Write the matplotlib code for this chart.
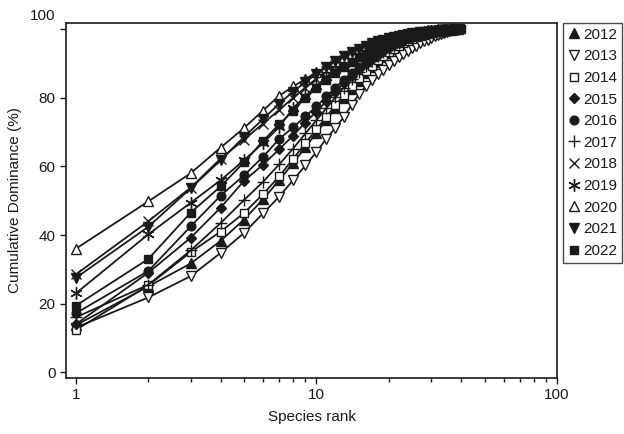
import numpy as np
import matplotlib
matplotlib.use('Agg')
import matplotlib.pyplot as plt
from matplotlib.lines import Line2D
from matplotlib.transforms import ScaledTranslation

plt.rcParams['font.family'] = ['Liberation Sans', 'DejaVu Sans']
plt.rcParams['font.size'] = 11

# cumulative dominance (%) by species rank, one list per year
years = ['2012', '2013', '2014', '2015', '2016', '2017', '2018', '2019', '2020', '2021', '2022']

d2012 = [13.7, 25.0, 31.7, 38.3, 44.5, 50.4, 56.0, 61.0, 65.6, 69.8, 73.6, 77.0, 80.0, 82.7, 85.0,
         87.1, 88.9, 90.5, 91.9, 93.1, 94.1, 95.0, 95.8, 96.5, 97.1, 97.6, 98.0, 98.4, 98.7, 99.0,
         99.2, 99.4, 99.55, 99.7, 99.8, 99.9, 100.0]
d2013 = [13.0, 21.8, 28.0, 34.8, 40.6, 46.3, 51.2, 56.0, 60.3, 64.2, 68.1, 71.3, 74.4, 77.9, 81.0,
         83.3, 85.2, 86.8, 88.2, 89.5, 90.7, 91.8, 92.8, 93.7, 94.5, 95.2, 95.9, 96.5, 97.0, 97.5,
         97.9, 98.3, 98.7, 99.0, 99.3, 99.6, 99.8, 100.0]
d2014 = [12.3, 25.3, 35.0, 41.0, 46.4, 51.9, 57.1, 62.2, 66.8, 70.8, 74.5, 77.8, 80.8, 83.4, 85.7,
         87.7, 89.4, 90.9, 92.2, 93.3, 94.3, 95.1, 95.9, 96.5, 97.1, 97.6, 98.0, 98.4, 98.7, 99.0,
         99.2, 99.4, 99.6, 99.75, 99.9, 100.0]
d2015 = [14.0, 29.0, 39.2, 48.0, 55.8, 60.5, 65.0, 69.0, 72.8, 76.0, 79.0, 81.8, 84.3, 86.5, 88.4,
         90.0, 91.4, 92.6, 93.7, 94.6, 95.4, 96.1, 96.7, 97.3, 97.8, 98.2, 98.6, 98.9, 99.2, 99.4,
         99.6, 99.75, 99.9, 100.0]
d2016 = [17.2, 29.5, 42.5, 51.5, 57.4, 62.8, 68.0, 71.4, 74.6, 77.5, 80.4, 83.0, 85.3, 87.3, 89.0,
         90.5, 91.8, 92.9, 93.9, 94.8, 95.6, 96.3, 96.9, 97.4, 97.9, 98.3, 98.7, 99.0, 99.3, 99.5,
         99.7, 99.8, 99.9, 100.0]
d2017 = [16.0, 25.5, 35.5, 43.5, 50.2, 55.5, 60.6, 65.2, 69.6, 73.5, 77.0, 80.2, 83.0, 85.4, 87.5,
         89.3, 90.8, 92.1, 93.3, 94.3, 95.2, 96.0, 96.7, 97.3, 97.8, 98.2, 98.6, 98.9, 99.2, 99.4,
         99.6, 99.75, 99.85, 99.95, 100.0]
d2018 = [28.5, 44.0, 53.8, 62.3, 67.8, 72.5, 76.5, 80.0, 83.0, 85.6, 87.8, 89.6, 91.1, 92.4, 93.5,
         94.5, 95.3, 96.0, 96.6, 97.1, 97.5, 97.9, 98.2, 98.5, 98.7, 98.9, 99.1, 99.2, 99.3, 99.4,
         99.5, 99.6, 99.7, 99.75, 99.8, 99.85, 99.9, 100.0]
d2019 = [23.0, 40.2, 49.4, 56.0, 61.8, 66.8, 71.5, 77.0, 80.5, 83.5, 86.0, 88.2, 89.9, 91.3, 92.5,
         93.5, 94.4, 95.2, 95.9, 96.5, 97.0, 97.4, 97.8, 98.2, 98.5, 98.8, 99.0, 99.2, 99.35, 99.5,
         99.6, 99.7, 99.8, 99.85, 99.9, 100.0]
d2020 = [36.0, 49.8, 58.0, 65.5, 71.2, 76.3, 80.6, 83.3, 85.5, 87.4, 89.0, 90.6, 92.0, 93.2, 94.2,
         95.1, 95.9, 96.5, 97.0, 97.4, 97.8, 98.1, 98.4, 98.6, 98.8, 99.0, 99.2, 99.3, 99.4, 99.5,
         99.6, 99.7, 99.8, 99.9, 100.0]
d2021 = [27.5, 42.4, 53.6, 61.8, 68.6, 73.8, 78.3, 81.8, 84.6, 87.0, 89.0, 90.7, 92.1, 93.3, 94.3,
         95.2, 95.9, 96.5, 97.0, 97.4, 97.8, 98.1, 98.4, 98.6, 98.8, 99.0, 99.1, 99.2, 99.3, 99.4,
         99.5, 99.6, 99.65, 99.7, 99.75, 99.8, 99.85, 99.9, 100.0]
d2022 = [19.4, 33.0, 46.5, 54.2, 61.2, 67.4, 72.3, 76.2, 80.0, 82.8, 85.2, 87.2, 89.0, 90.5, 91.8,
         92.9, 93.9, 94.7, 95.4, 96.0, 96.5, 97.0, 97.4, 97.8, 98.1, 98.4, 98.6, 98.8, 99.0, 99.15,
         99.3, 99.4, 99.5, 99.6, 99.7, 99.75, 99.8, 99.85, 99.9, 100.0]

series = [d2012, d2013, d2014, d2015, d2016, d2017, d2018, d2019, d2020, d2021, d2022]

# marker style per year: (marker, filled)
styles = [('^', True), ('v', False), ('s', False), ('D', True), ('o', True), ('+', False),
          ('x', False), ((6, 2, 0), False), ('^', False), ('v', True), ('s', True)]
sizes = [7, 7, 6, 5.5, 6.3, 9, 7, 9, 7, 7, 6.3]

ink = '#1a1a1a'

fig = plt.figure(figsize=(6.24, 4.34), dpi=100)
ax = fig.add_axes([66 / 624, 1 - 377.7 / 434, (557 - 66) / 624, (377.7 - 22.7) / 434])

handles = []
for yr, vals, (mk, filled), ms in zip(years, series, styles, sizes):
    rank = np.arange(1, len(vals) + 1)
    fc = ink if filled else 'white'
    ax.plot(rank, vals, color=ink, lw=1.3, marker=mk, ms=ms, mfc=fc, mec=ink, mew=1.0)
    handles.append(Line2D([], [], linestyle='none', marker=mk, ms=ms, mfc=fc, mec=ink, mew=1.0))

ax.set_xscale('log')
ax.set_xlim(0.91, 100)
ax.set_ylim(-1.6, 101.9)
ax.set_xticks([1, 10, 100])
ax.set_xticklabels(['1', '10', '100'])
ax.set_yticks([0, 20, 40, 60, 80, 100])
ax.tick_params(axis='both', which='major', direction='out', length=4.5, width=1, color=ink,
               labelsize=11, labelcolor=ink, pad=3)
ax.tick_params(axis='x', which='minor', direction='out', length=3, width=1, color=ink)
ax.tick_params(top=False, right=False)
for s in ax.spines.values():
    s.set_linewidth(1.2)
    s.set_color(ink)

# the "100" label sits above its tick in the original
lbl = ax.get_yticklabels()[-1]
lbl.set_transform(lbl.get_transform() + ScaledTranslation(0, 15 / 100, fig.dpi_scale_trans))

ax.set_xlabel('Species rank', fontsize=11, color=ink, labelpad=6)
ax.set_ylabel('Cumulative Dominance (%)', fontsize=11, color=ink, labelpad=6)

leg = fig.legend(handles, years, loc='upper left', bbox_to_anchor=(563 / 624, 1 - 23 / 434),
                 frameon=True, fancybox=False, fontsize=11, handlelength=0.8, handletextpad=0.25,
                 labelspacing=0.5, borderpad=0.3, borderaxespad=0, labelcolor=ink)
leg.get_frame().set_edgecolor(ink)
leg.get_frame().set_linewidth(1.0)

fig.savefig('out.png', dpi=100)
